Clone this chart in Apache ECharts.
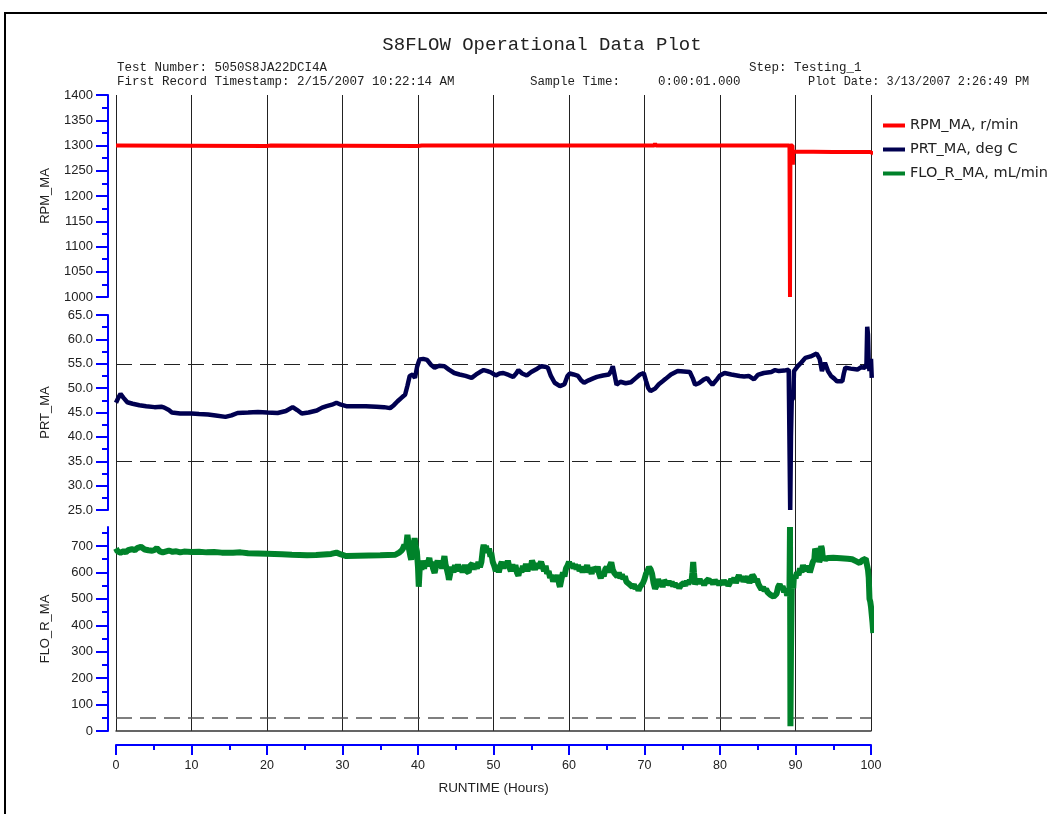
<!DOCTYPE html>
<html><head><meta charset="utf-8">
<script src="https://cdn.jsdelivr.net/npm/echarts@6/dist/echarts.min.js"></script>
<style>html,body{margin:0;padding:0;background:#fff}#c{width:1047px;height:814px}</style>
</head><body><div id="c"></div>
<script>
// ---- data ----
const xTicks = [0,10,20,30,40,50,60,70,80,90,100];
const seriesNames = ['RPM_MA, r/min','PRT_MA, deg C','FLO_R_MA, mL/min'];

const rpmHours  = [0, 20, 20.5, 40, 40.5, 71.3, 71.4, 71.5, 89.2, 89.27, 89.33, 89.6, 89.65, 89.7, 95, 99.9, 100.3];
const rpmValues = [1300, 1299, 1300, 1299, 1300, 1300, 1304, 1300, 1300, 1000, 1300, 1300, 1262, 1288, 1287, 1287, 1284];

const prtHours  = [0,0.3,0.6,1.0,1.5,2.2,3.1,4,5.1,6.0,6.4,7.0,7.4,8.5,10,11,12.2,13.2,14.5,15.3,16.1,17.5,18.8,20,21.4,22.5,23.4,24.0,24.6,25.5,26.6,27.3,27.9,28.6,29.2,29.8,30.5,32,33.1,34.5,35.5,36.3,36.8,37.3,37.8,38.3,38.6,38.9,39.3,39.6,39.9,40.2,40.7,41.2,41.7,42.2,42.8,43.5,44.1,44.8,45.5,46.3,47.1,47.7,48.2,48.7,49.2,49.7,50.3,50.8,51.3,52.0,52.6,53.0,53.3,53.8,54.4,55.0,55.6,56.1,56.4,56.8,57.2,57.6,58.1,58.8,59.4,59.8,60.1,60.6,61.2,61.6,62.0,62.6,63.2,63.7,64.5,65.3,65.6,65.8,66.0,66.3,66.8,67.5,68.2,68.8,69.4,69.9,70.2,70.5,70.8,71.4,71.9,72.4,72.8,73.5,74.4,75.2,76.0,76.4,76.7,77.2,77.8,78.3,78.6,79.0,79.6,80.0,80.6,81.5,82.6,83.2,83.8,84.5,85.0,85.8,86.8,87.3,87.8,88.5,89.1,89.25,89.3,89.4,89.5,89.7,89.8,90.3,90.8,91.3,92.0,92.8,93.2,93.5,93.9,94.3,94.7,95.1,95.5,96.2,96.4,96.6,97.3,98.2,98.7,99.2,99.4,99.5,99.6,99.7,99.8,100.0,100.1];
const prtValues = [47.0,48.0,48.8,48.0,47.1,46.8,46.5,46.3,46.1,46.2,46.0,45.5,45.0,44.8,44.8,44.7,44.6,44.4,44.1,44.4,44.9,45.0,45.1,45.0,44.9,45.3,46.1,45.5,44.8,45.0,45.4,46.0,46.3,46.6,47.0,46.6,46.3,46.3,46.3,46.2,46.1,45.9,46.5,47.3,48.0,48.7,50.5,52.5,52.8,52.1,54.5,55.9,56.0,55.8,54.8,54.2,54.6,54.5,53.8,53.1,52.8,52.5,52.1,52.8,53.3,53.7,53.5,53.2,52.6,53.0,53.1,52.7,52.3,53.0,53.7,53.0,52.6,53.3,53.8,54.3,54.5,54.4,54.2,52.5,51.1,50.4,50.8,52.5,53.0,52.8,52.5,51.6,51.1,51.6,52.0,52.3,52.6,52.8,53.6,54.5,53.0,50.7,51.3,51.0,51.2,52.0,52.8,53.1,51.5,50.0,49.4,49.9,50.8,51.4,51.9,52.8,53.5,53.4,53.3,52.0,50.7,51.0,51.7,52.1,51.4,50.7,51.8,52.6,53.1,52.8,52.5,52.4,52.5,51.8,52.7,53.1,53.3,53.7,53.5,53.6,53.8,53.5,25.0,40.0,47.5,48.0,53.5,54.5,55.3,56.2,56.5,57.1,56.0,53.5,55.2,53.5,52.5,52.0,51.4,51.4,53.0,54.2,54.0,53.8,54.3,54.2,55.0,62.6,61.0,55.0,53.5,56.0,52.1];

const floHours  = [0,0.2,0.4,0.6,0.8,1.0,1.3,1.6,1.8,2.1,2.5,2.8,3.0,3.3,3.5,3.8,4.0,4.3,4.5,4.8,5.1,5.4,5.6,5.8,6.0,6.2,6.4,7,7.5,8,8.5,9,10,11,12,13,14,15.5,16.5,17.5,18.8,20,21,22,23.3,24.3,25.3,26.5,27.5,28.5,29.2,29.8,30.5,32,33.5,35,36,37.0,37.5,37.8,38.0,38.2,38.4,38.6,38.7,38.8,39.0,39.1,39.25,39.4,39.55,39.7,39.85,40.0,40.1,40.2,40.3,40.45,40.6,40.8,41.0,41.2,41.5,41.65,41.8,42.0,42.2,42.4,42.6,42.8,43.0,43.2,43.5,43.65,43.8,44.0,44.1,44.3,44.5,44.7,44.9,45.1,45.3,45.5,45.7,45.9,46.2,46.4,46.7,46.9,47.2,47.4,47.6,47.8,48.0,48.2,48.4,48.5,48.6,48.7,48.85,49.0,49.2,49.4,49.6,49.7,49.9,50.1,50.3,50.5,50.7,50.9,51.1,51.3,51.5,51.7,51.9,52.1,52.3,52.5,52.7,52.9,53.1,53.3,53.5,53.7,53.9,54.1,54.3,54.5,54.7,54.9,55.1,55.3,55.5,55.7,55.9,56.1,56.3,56.5,56.7,56.9,57.1,57.3,57.5,57.7,57.9,58.1,58.3,58.5,58.7,58.8,59.0,59.2,59.4,59.6,59.8,60.0,60.2,60.4,60.6,60.8,61.0,61.2,61.4,61.6,61.8,62.0,62.2,62.4,62.6,62.8,63.0,63.2,63.4,63.6,63.8,64.0,64.2,64.4,64.6,64.8,65.0,65.2,65.4,65.6,65.8,66.0,66.2,66.4,66.6,66.8,67.0,67.2,67.4,67.6,67.8,68.0,68.2,68.4,68.6,68.8,69.0,69.2,69.4,69.6,69.8,70.0,70.2,70.4,70.6,70.8,71.0,71.2,71.4,71.6,71.8,72.0,72.2,72.4,72.6,72.8,73.0,73.2,73.4,73.6,73.8,74.0,74.2,74.4,74.6,74.8,75.0,75.2,75.4,75.6,75.8,76.0,76.2,76.35,76.45,76.55,76.7,76.9,77.1,77.3,77.5,77.7,77.9,78.1,78.3,78.5,78.7,78.9,79.1,79.3,79.5,79.7,79.9,80.1,80.3,80.5,80.7,80.9,81.1,81.3,81.5,81.7,81.9,82.1,82.3,82.5,82.7,82.9,83.1,83.3,83.5,83.7,83.9,84.1,84.3,84.5,84.7,84.9,85.1,85.3,85.5,85.7,85.9,86.1,86.3,86.5,86.7,86.9,87.1,87.3,87.5,87.7,87.9,88.1,88.3,88.5,88.7,88.9,89.1,89.2,89.27,89.3,89.33,89.4,89.5,89.6,89.7,89.8,90.0,90.2,90.4,90.6,90.8,91.0,91.2,91.4,91.6,91.8,91.9,92.1,92.3,92.5,92.6,92.8,93.0,93.15,93.3,93.4,93.5,93.6,93.8,94.0,94.3,95.0,96.0,96.9,97.5,98.0,98.5,98.8,99.0,99.3,99.5,99.6,99.7,99.8,99.9,100.0,100.1,100.2,100.3];
const floValues = [691,680,685,675,672,680,676,684,679,688,684,692,690,697,695,687,692,684,690,682,685,692,688,680,682,676,679,683,678,680,676,679,677,678,676,677,675,675,676,673,672,671,670,669,667,666,665,666,668,670,675,668,662,663,664,665,666,667,675,682,690,705,690,742,720,690,660,648,690,700,730,700,680,620,546,600,640,610,645,615,640,625,655,630,640,615,598,625,645,620,635,615,662,630,615,590,572,600,620,600,628,610,630,605,622,600,628,606,600,625,633,612,628,615,640,620,640,665,690,705,680,700,675,690,660,675,640,625,605,628,600,625,640,615,638,618,645,620,605,630,610,628,600,588,615,600,625,610,632,605,625,610,645,630,610,635,618,628,640,622,605,625,595,605,580,590,565,585,570,590,555,546,575,600,585,615,625,640,620,635,615,630,612,628,605,620,600,622,610,628,600,612,595,618,625,605,622,595,578,600,585,612,620,600,625,638,610,598,605,585,600,578,592,575,585,565,570,555,560,545,555,538,548,532,545,540,560,575,595,605,620,612,595,560,538,550,575,555,565,545,570,575,555,568,552,565,548,560,545,555,540,552,545,560,550,568,555,572,560,600,640,600,555,570,558,575,560,568,552,565,558,575,560,570,555,572,560,568,552,565,555,570,558,566,550,560,575,565,580,560,575,590,570,585,565,578,570,585,560,575,590,582,565,575,555,545,535,545,530,538,525,530,515,520,508,515,520,545,555,540,548,525,540,512,535,525,772,400,18,300,534,560,540,590,578,600,590,615,600,628,610,625,605,615,600,620,640,650,690,695,665,640,650,700,690,660,655,650,655,656,654,652,650,643,636,645,650,652,645,610,580,500,490,470,440,410,371];

const rpmTicks = {min:1000, max:1400, interval:50};
const prtTicks = {min:25, max:65, interval:5};
const floMajor = [0,100,200,300,400,500,600,700];
const floMinor = [50,150,250,350,450,550,650,750];
const floMax = 772;
const dashPRT = [55, 35];
const dashFLO = [50];

function zip(a,b){return a.map((v,i)=>[v,b[i]]);}

// ---- styling ----
const BLUE = '#0000ff';
const TXT = '#222';
const LBL = {color:TXT, fontFamily:'Liberation Sans', fontSize:13};
const gl = 116, gw = 755;
const MONO = '12.5px "Liberation Mono"';
function hiddenX(gi){return {type:'value', gridIndex:gi, min:0, max:100, show:false};}
function blueY(gi, extra){
  return Object.assign({
    type:'value', gridIndex:gi, position:'left', offset:8,
    axisLine:{show:true, onZero:false, lineStyle:{color:BLUE, width:2}},
    axisTick:{show:true, length:12, lineStyle:{color:BLUE, width:2}},
    minorTick:{show:true, splitNumber:2, length:6, lineStyle:{color:BLUE, width:2}},
    axisLabel:Object.assign({margin:15, formatter:v=>String(v)}, LBL),
    splitLine:{show:false},
    nameLocation:'middle', nameGap:56, nameRotate:90,
    nameTextStyle:{color:TXT, fontFamily:'Liberation Sans', fontSize:13}
  }, extra);
}
function txt(x,y,s,font){return {type:'text', x:x, y:y, style:{text:s, font:font||MONO, fill:TXT, textVerticalAlign:'middle'}};}

const chart = echarts.init(document.getElementById('c'), null, {renderer:'canvas'});
chart.setOption({
  animation:false,
  backgroundColor:'#fff',
  color:['#ff0000','#000050','#00822a'],
  legend:{
    data:seriesNames, orient:'vertical', left:883, top:118, padding:0,
    icon:'rect', itemWidth:22, itemHeight:4, itemGap:9,
    textStyle:{color:TXT, fontFamily:'DejaVu Sans', fontSize:14.5}
  },
  graphic:[
    {type:'rect', shape:{x:5, y:13, width:1200, height:1000}, style:{fill:'none', stroke:'#000', lineWidth:2}, silent:true},
    {type:'text', x:542, y:45, style:{text:'S8FLOW Operational Data Plot', font:'19px "Liberation Mono"', fill:TXT, textAlign:'center', textVerticalAlign:'middle'}},
    txt(117, 68, 'Test Number: 5050S8JA22DCI4A'),
    txt(117, 82, 'First Record Timestamp: 2/15/2007 10:22:14 AM'),
    txt(530, 82, 'Sample Time:'),
    txt(658, 82, '0:00:01.000'),
    txt(749, 68, 'Step: Testing_1'),
    txt(808, 82, 'Plot Date: 3/13/2007 2:26:49 PM', '11.9px "Liberation Mono"')
  ],
  grid:[
    {left:gl, width:gw, top:95, height:636},
    {left:gl, width:gw, top:95, height:202},
    {left:gl, width:gw, top:315, height:195},
    {left:gl, width:gw, top:527, height:204}
  ],
  xAxis:[
    {type:'value', gridIndex:0, min:0, max:100, interval:10,
     axisLine:{show:true, onZero:false, lineStyle:{color:'#333', width:1.5}},
     axisTick:{show:false}, axisLabel:{show:false},
     splitLine:{show:true, lineStyle:{color:'#222', width:1}}},
    {type:'value', gridIndex:0, min:0, max:100, interval:10, position:'bottom', offset:14,
     axisLine:{show:true, onZero:false, lineStyle:{color:BLUE, width:2}},
     axisTick:{show:true, length:10, lineStyle:{color:BLUE, width:2}},
     minorTick:{show:true, splitNumber:2, length:5, lineStyle:{color:BLUE, width:2}},
     axisLabel:Object.assign({margin:14, formatter:v=>xTicks.includes(v)?String(v):''}, LBL, {fontSize:12.5}),
     splitLine:{show:false},
     name:'RUNTIME (Hours)', nameLocation:'middle', nameGap:36,
     nameTextStyle:{color:TXT, fontFamily:'Liberation Sans', fontSize:13.5}},
    hiddenX(1), hiddenX(2), hiddenX(3)
  ],
  yAxis:[
    {type:'value', gridIndex:0, min:0, max:1, show:false},
    blueY(1, {min:rpmTicks.min, max:rpmTicks.max, interval:rpmTicks.interval, name:'RPM_MA'}),
    blueY(2, {min:prtTicks.min, max:prtTicks.max, interval:prtTicks.interval, name:'PRT_MA',
      axisLabel:Object.assign({margin:15, formatter:v=>v.toFixed(1)}, LBL)}),
    blueY(3, {min:0, max:floMax, name:'FLO_R_MA',
      minorTick:{show:false},
      axisTick:{show:true, length:12, customValues:floMajor, lineStyle:{color:BLUE, width:2}},
      axisLabel:Object.assign({margin:15, customValues:floMajor, formatter:v=>String(v)}, LBL)}),
    {type:'value', gridIndex:3, min:0, max:floMax, position:'left', offset:8,
     axisLine:{show:false, onZero:false}, splitLine:{show:false}, axisLabel:{show:false},
     axisTick:{show:true, length:6, customValues:floMinor, lineStyle:{color:BLUE, width:2}}}
  ],
  series:[
    {name:seriesNames[0], type:'line', xAxisIndex:2, yAxisIndex:1, showSymbol:false, clip:false,
     data:zip(rpmHours, rpmValues), lineStyle:{width:4, color:'#ff0000'}, z:5},
    {name:seriesNames[1], type:'line', xAxisIndex:3, yAxisIndex:2, showSymbol:false, clip:false,
     data:zip(prtHours, prtValues), lineStyle:{width:4.5, color:'#000050'}, z:5,
     markLine:{silent:true, symbol:['none','none'], label:{show:false},
       lineStyle:{color:'#222', type:[16,8], width:1}, data:dashPRT.map(v=>({yAxis:v}))}},
    {name:seriesNames[2], type:'line', xAxisIndex:4, yAxisIndex:3, showSymbol:false, clip:false,
     data:zip(floHours, floValues), lineStyle:{width:6, color:'#00822a'}, z:5,
     markLine:{silent:true, symbol:['none','none'], label:{show:false},
       lineStyle:{color:'#555', type:[16,8], width:1.5}, data:dashFLO.map(v=>({yAxis:v}))}}
  ]
});
</script></body></html>
